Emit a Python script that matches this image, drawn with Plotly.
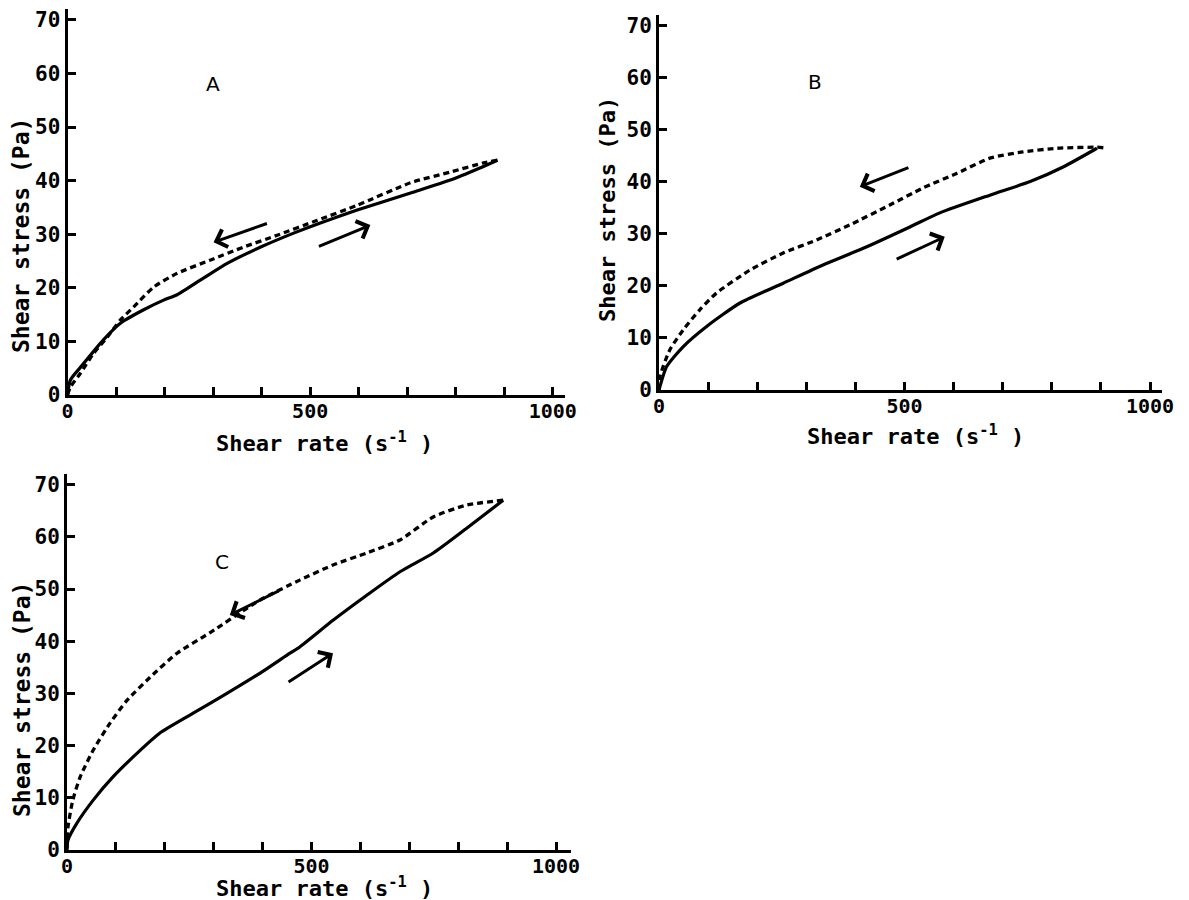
import plotly.graph_objects as go

# The page body adds an 8px margin, so the figure is drawn 8px smaller and
# all page-pixel positions are shifted by that offset.
PAGE_OFF = 8
W, H = 1189 - PAGE_OFF, 900 - PAGE_OFF

# ---------------- data ----------------
# Panel A
a_up_x = [0, 6, 27, 74, 109, 157, 198, 226, 280, 330, 398, 466, 521, 597, 707, 789, 851, 886]
a_up_y = [0, 2.8, 5.2, 10.3, 13.4, 15.9, 17.7, 18.7, 21.8, 24.6, 27.6, 30.2, 32.1, 34.5, 37.7, 40.1, 42.4, 43.8]
a_dn_x = [886, 857, 789, 707, 597, 515, 432, 363, 295, 226, 177, 136, 109, 82, 54, 27, 6, 0]
a_dn_y = [43.8, 43.3, 41.6, 39.6, 35.4, 32.6, 29.8, 27.6, 25.2, 22.7, 20.1, 16.4, 14.0, 10.8, 7.8, 4.1, 1.5, 0]

# Panel B
b_up_x = [0, 15.6, 49, 97, 165, 253, 334, 416, 511, 572, 674, 756, 823, 892]
b_up_y = [0, 4.5, 8.3, 12.2, 16.7, 20.5, 24.0, 27.2, 31.3, 34.0, 37.4, 40.0, 42.8, 46.4]
b_dn_x = [905, 892, 811, 741, 674, 607, 538, 470, 389, 321, 253, 185, 117, 83, 49, 22, 2, 0]
b_dn_y = [46.5, 46.6, 46.4, 45.7, 44.5, 41.6, 38.8, 35.5, 31.7, 28.8, 26.3, 23.0, 18.6, 15.4, 11.5, 7.7, 2.6, 0]

# Panel C
c_up_x = [0, 2, 20, 54, 94, 143, 190, 258, 327, 395, 456, 476, 544, 613, 681, 749, 818, 892]
c_up_y = [0, 1.9, 5.1, 9.6, 14.0, 18.5, 22.4, 26.2, 30.0, 33.9, 37.7, 38.9, 44.0, 48.8, 53.3, 56.9, 61.7, 67.0]
c_dn_x = [892, 818, 749, 681, 613, 544, 476, 395, 292, 225, 170, 123, 88, 54, 27, 12, 2, 0]
c_dn_y = [67.0, 66.1, 63.8, 59.4, 56.9, 54.6, 51.7, 47.9, 41.6, 37.7, 33.1, 28.7, 24.3, 19.2, 14.0, 9.6, 4.4, 0]

# arrows: (tail_x, tail_y, head_x, head_y)
a_arrows = [(414, 32.1, 301, 28.5), (515, 27.6, 624, 31.7)]
b_arrows = [(511, 42.8, 409, 39.0), (481, 25.0, 582, 29.4)]
c_arrows = [(436, 49.8, 333, 45.0), (450, 32.0, 544, 37.7)]

x_major_step = 500
x_minor_step = 100
y_major_step = 10

panel_labels = ["A", "B", "C"]
x_title = "Shear rate (s<sup>-1</sup> )"
y_title = "Shear stress (Pa)"

# ---------------- layout helpers (page-pixel geometry) ----------------
def fx(px):
    return (px - PAGE_OFF) / W

def fy(py):
    return 1 - (py - PAGE_OFF) / H

# panel geometry: x0 px, px per x-unit, xmax, y0 px, px per y-unit, ymax
panels = {
    "A": dict(x0=67.5, sx=0.4853, xmax=1025, y0=395, sy=5.36, ymax=72),
    "B": dict(x0=659, sx=0.491, xmax=1025, y0=390, sy=5.21, ymax=72),
    "C": dict(x0=67, sx=0.489, xmax=1030, y0=850, sy=5.22, ymax=72),
}

FONT = "DejaVu Sans Mono"
fig = go.Figure()

series = [
    (a_up_x, a_up_y, a_dn_x, a_dn_y),
    (b_up_x, b_up_y, b_dn_x, b_dn_y),
    (c_up_x, c_up_y, c_dn_x, c_dn_y),
]

for i, (ux, uy, dx, dy) in enumerate(series):
    xa = "x" if i == 0 else f"x{i+1}"
    ya = "y" if i == 0 else f"y{i+1}"
    fig.add_trace(go.Scatter(x=ux, y=uy, mode="lines", xaxis=xa, yaxis=ya,
                             line=dict(color="black", width=3.2, shape="spline", smoothing=0.6),
                             hoverinfo="skip"))
    fig.add_trace(go.Scatter(x=dx, y=dy, mode="lines", xaxis=xa, yaxis=ya,
                             line=dict(color="black", width=3.3, dash="6px,4px", shape="spline", smoothing=0.6),
                             hoverinfo="skip"))

layout = dict(width=W, height=H, margin=dict(l=0, r=0, t=0, b=0, pad=0),
              paper_bgcolor="white", plot_bgcolor="white", showlegend=False)

axis_common = dict(showline=True, linewidth=3, linecolor="black", ticks="inside",
                   ticklen=8, tickwidth=2.5, tickcolor="black", showgrid=False,
                   zeroline=False, automargin=False, tickmode="linear", tick0=0)

annotations = []
for i, key in enumerate(["A", "B", "C"]):
    p = panels[key]
    xr = [p["x0"], p["x0"] + p["sx"] * p["xmax"]]
    yr = [p["y0"] - p["sy"] * p["ymax"], p["y0"]]
    sx = "" if i == 0 else str(i + 1)
    layout[f"xaxis{sx}"] = dict(axis_common, domain=[fx(xr[0]), fx(xr[1])], range=[0, p["xmax"]],
                                anchor=f"y{sx}", dtick=x_major_step, ticklabelstandoff=-4,
                                tickfont=dict(family=FONT, size=20, color="black", weight="bold"),
                                minor=dict(dtick=x_minor_step, tick0=0, ticks="inside", ticklen=8,
                                           tickwidth=2.5, tickcolor="black", showgrid=False))
    layout[f"yaxis{sx}"] = dict(axis_common, domain=[fy(yr[1]), fy(yr[0])], range=[0, p["ymax"]],
                                anchor=f"x{sx}", dtick=y_major_step,
                                tickfont=dict(family=FONT, size=21, color="black", weight="bold"))

arrow_sets = [a_arrows, b_arrows, c_arrows]
for i, arrows in enumerate(arrow_sets):
    sx = "" if i == 0 else str(i + 1)
    for (tx, ty, hx, hy) in arrows:
        annotations.append(dict(x=hx, y=hy, ax=tx, ay=ty, xref=f"x{sx}", yref=f"y{sx}",
                                axref=f"x{sx}", ayref=f"y{sx}", text="", showarrow=True,
                                arrowhead=4, arrowsize=1.2, arrowwidth=3, arrowcolor="black",
                                standoff=0, startstandoff=0))

# panel letters
for lab, (px, py) in zip(panel_labels, [(213, 84), (815, 82), (222, 562)]):
    annotations.append(dict(x=fx(px), y=fy(py), xref="paper", yref="paper", text=lab,
                            showarrow=False, xanchor="center", yanchor="middle",
                            font=dict(family="DejaVu Sans", size=20, color="black")))

# axis titles
for (px, py) in [(325, 442), (915, 435), (324, 887)]:
    annotations.append(dict(x=fx(px), y=fy(py), xref="paper", yref="paper", text=x_title,
                            showarrow=False, xanchor="center", yanchor="middle",
                            font=dict(family=FONT, size=22, color="black", weight="bold")))
for (px, py, fs) in [(21, 236, 23), (607, 210, 22), (22, 700, 23)]:
    annotations.append(dict(x=fx(px), y=fy(py), xref="paper", yref="paper", text=y_title,
                            showarrow=False, xanchor="center", yanchor="middle", textangle=-90,
                            font=dict(family=FONT, size=fs, color="black", weight="bold")))

layout["annotations"] = annotations
fig.update_layout(**layout)
fig.write_html("out.html")
